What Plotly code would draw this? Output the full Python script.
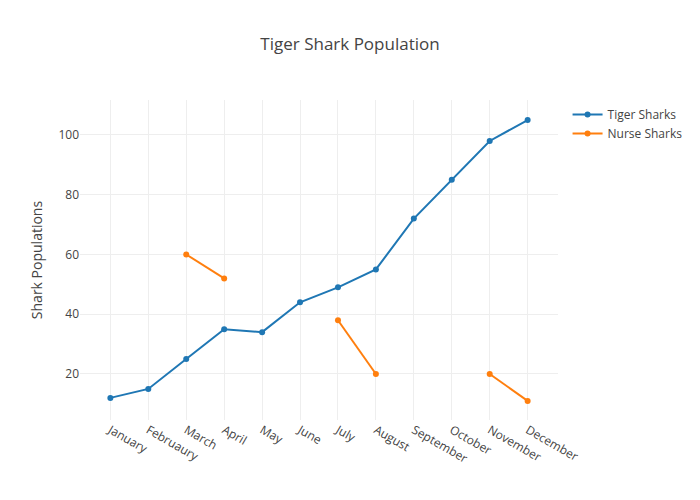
import plotly.graph_objects as go

months = ["January", "Februaury", "March", "April", "May", "June", "July",
          "August", "September", "October", "November", "December"]
tiger_sharks = [12, 15, 25, 35, 34, 44, 49, 55, 72, 85, 98, 105]
nurse_sharks = [None, None, 60, 52, None, None, 38, 20, None, None, 20, 11]

fig = go.Figure()
fig.add_trace(go.Scatter(x=months, y=tiger_sharks, mode="lines+markers",
                         name="Tiger Sharks",
                         line=dict(color="#1f77b4", width=2),
                         marker=dict(color="#1f77b4", size=6)))
fig.add_trace(go.Scatter(x=months, y=nurse_sharks, mode="lines+markers",
                         name="Nurse Sharks",
                         line=dict(color="#ff7f0e", width=2),
                         marker=dict(color="#ff7f0e", size=6)))

fig.update_layout(
    template="none",
    width=700, height=500,
    title=dict(text="Tiger Shark Population", x=0.5, xanchor="center",
               font=dict(size=17, color="#444")),
    font=dict(family="Open Sans, verdana, arial, sans-serif", size=12, color="#444"),
    paper_bgcolor="white", plot_bgcolor="white",
    margin=dict(l=80, r=80, t=100, b=80),
    xaxis=dict(tickangle=30, showgrid=True, gridcolor="#eee", zeroline=False,
               showline=False, ticks="", tickfont=dict(size=12),
               range=[-0.8, 11.8]),
    yaxis=dict(title=dict(text="Shark Populations", font=dict(size=14)),
               showgrid=True, gridcolor="#eee", zeroline=False,
               showline=False, ticks="", range=[4.6, 111.7]),
    legend=dict(x=1.02, y=1, xanchor="left", yanchor="top",
                font=dict(size=12)),
    showlegend=True,
)

fig.write_html("out.html", config={"displayModeBar": False},
               post_script="document.body.style.margin='0';")
